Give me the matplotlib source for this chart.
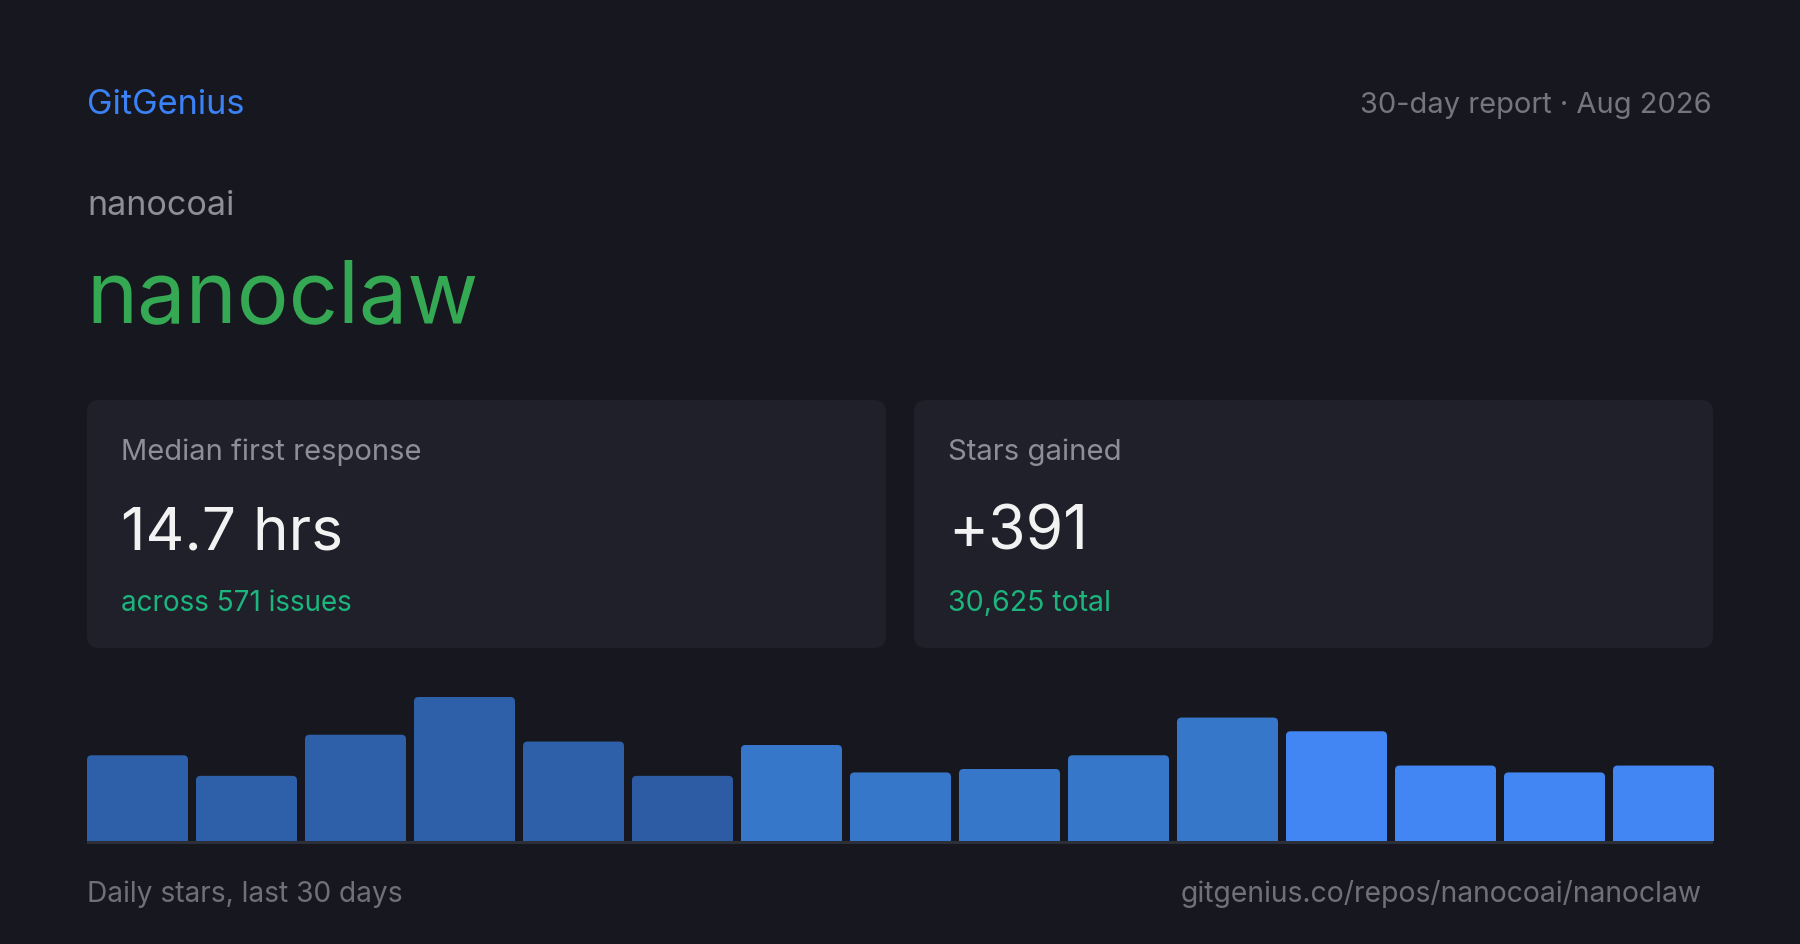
import matplotlib
matplotlib.use("Agg")
import matplotlib.pyplot as plt
from matplotlib.patches import FancyBboxPatch, Rectangle

plt.rcParams['font.family'] = ['Inter', 'DejaVu Sans']

# ---------------- data ----------------
brand = "GitGenius"
report_label = "30-day report · Aug 2026"
owner = "nanocoai"
repo = "nanoclaw"
card_titles = ["Median first response", "Stars gained"]
card_values = ["14.7 hrs", "+391"]
card_notes = ["across 571 issues", "30,625 total"]
daily_stars = [25, 19, 31, 42, 29, 19, 28, 20, 21, 25, 36, 32, 22, 20, 22]
bar_colors = ["#2e5fa9", "#2e5fa9", "#2e5fa9", "#2e5fa9", "#2e5fa9", "#2d5ca5",
              "#3677c9", "#3677c9", "#3677c9", "#3677c9", "#3677c9",
              "#4286f4", "#4286f4", "#4286f4", "#4286f4"]
footer_left = "Daily stars, last 30 days"
footer_right = "gitgenius.co/repos/nanocoai/nanoclaw"

# ---------------- style ----------------
BG = "#17181f"
CARD = "#1f2029"
W, H, DPI = 1800, 945, 100

fig = plt.figure(figsize=(W / DPI, H / DPI), dpi=DPI, facecolor=BG)
ov = fig.add_axes([0, 0, 1, 1])
ov.set_xlim(0, W)
ov.set_ylim(H, 0)
ov.axis("off")
ov.set_facecolor(BG)

renderer = fig.canvas.get_renderer()


def put(x, y, s, color, target_w, ha="left", base=20):
    t = ov.text(x, y, s, color=color, fontsize=base, ha=ha, va="baseline")
    w = t.get_window_extent(renderer=renderer).width
    t.set_fontsize(base * target_w / w)
    return t


# header
put(87, 114, brand, "#3b82f6", 157)
put(1712, 113, report_label, "#74757f", 352, ha="right")
put(87, 215, owner, "#8d8e97", 147)
put(86, 322, repo, "#34a853", 393)

# cards
card_x = [87, 914]
card_w = 799
for i in range(2):
    ov.add_patch(FancyBboxPatch((card_x[i], 401), card_w, 248,
                                boxstyle="round,pad=0,rounding_size=12",
                                facecolor=CARD, edgecolor="none", zorder=1))
    tx = card_x[i] + 34
    put(tx, 460, card_titles[i], "#8d8e97", 300 if i == 0 else 174)
    put(tx, 550, card_values[i], "#f2f2f2", 222 if i == 0 else 140)
    put(tx, 611, card_notes[i], "#1db57e", 231 if i == 0 else 163)

# footer
put(87, 902, footer_left, "#6f707a", 317)
put(1702, 902, footer_right, "#6f707a", 521, ha="right")

# baseline
ov.add_patch(Rectangle((87, 842), 1626, 2.5, facecolor="#2c2e38",
                       edgecolor="none", zorder=3))

# ---------------- bar chart ----------------
n = len(daily_stars)
pitch = 109.0
bw = 101.0 / pitch
left_px, right_px = 87.0, 87.0 + pitch * (n - 1) + 101.0
top_px, bot_px = 698.0, 842.0
bx = fig.add_axes([left_px / W, 1 - bot_px / H,
                   (right_px - left_px) / W, (bot_px - top_px) / H])
bx.set_facecolor("none")
bx.axis("off")
xs = list(range(n))
bars = bx.bar(xs, daily_stars, width=bw, color=bar_colors, align="center")
bx.set_xlim(-bw / 2, n - 1 + bw / 2)
bx.set_ylim(0, max(daily_stars))

# rounded tops
x_per_px = (n - 1 + bw) / (right_px - left_px)
y_per_px = max(daily_stars) / (bot_px - top_px)
r_px = 4.5
for rect in bars:
    rect.set_visible(False)
    x0, w0, h0 = rect.get_x(), rect.get_width(), rect.get_height()
    pad = 10 * y_per_px
    p = FancyBboxPatch((x0, -pad), w0, h0 + pad,
                       boxstyle=f"round,pad=0,rounding_size={r_px * x_per_px}",
                       mutation_aspect=y_per_px / x_per_px,
                       facecolor=rect.get_facecolor(), edgecolor="none")
    p.set_clip_path(bx.patch)
    bx.add_patch(p)

fig.savefig("out.png", dpi=DPI, facecolor=BG)
